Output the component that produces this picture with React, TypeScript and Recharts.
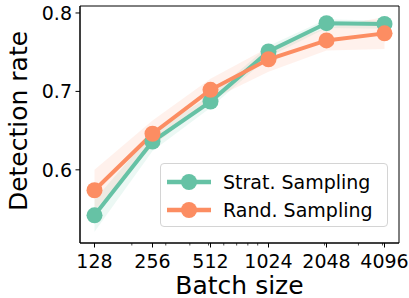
import { ComposedChart, Line, Area, XAxis, YAxis, Legend, ReferenceArea } from 'recharts';

// batch sizes on the x axis (log scale)
const batchSizes = [128, 256, 512, 1024, 2048, 4096];
const minorTicks = [200, 300, 400, 500, 600, 700, 800, 900, 2000, 3000, 4000];
const yTicks = [0.6, 0.7, 0.8];

// Strat. Sampling
const stratMean = [0.542, 0.636, 0.687, 0.751, 0.787, 0.786];
const stratLow = [0.521, 0.624, 0.679, 0.744, 0.781, 0.780];
const stratHigh = [0.562, 0.647, 0.695, 0.758, 0.792, 0.790];

// Rand. Sampling
const randMean = [0.574, 0.646, 0.702, 0.741, 0.765, 0.774];
const randLow = [0.548, 0.630, 0.689, 0.725, 0.752, 0.754];
const randHigh = [0.600, 0.663, 0.716, 0.756, 0.781, 0.795];

const GREEN = '#66c2a5';
const ORANGE = '#fc8d62';
const FONT = '"DejaVu Sans", sans-serif';

const PLOT_LEFT = 80;
const PLOT_BOTTOM = 243;
const X_DOMAIN = [Math.pow(2, 6.75), Math.pow(2, 12.25)];
const Y_DOMAIN = [0.5067, 0.8089];

const data = batchSizes.map((b, i) => ({
  batch: b,
  strat: stratMean[i],
  stratBand: [stratLow[i], stratHigh[i]],
  rand: randMean[i],
  randBand: [randLow[i], randHigh[i]],
}));

const XTick = ({ x, payload }: any) => {
  const v = payload.value;
  const major = batchSizes.includes(v);
  if (!major) {
    return <line x1={x} x2={x} y1={PLOT_BOTTOM} y2={PLOT_BOTTOM + 2.5} stroke="#000" strokeWidth={0.7} />;
  }
  return (
    <g>
      <line x1={x} x2={x} y1={PLOT_BOTTOM} y2={PLOT_BOTTOM + 4.5} stroke="#000" strokeWidth={1} />
      <text x={x} y={268} textAnchor="middle" fontSize={19} fontFamily={FONT} fill="#000">
        {v}
      </text>
    </g>
  );
};

const YTick = ({ y, payload }: any) => (
  <g>
    <line x1={PLOT_LEFT - 4.5} x2={PLOT_LEFT} y1={y} y2={y} stroke="#000" strokeWidth={1} />
    <text x={72} y={y + 7} textAnchor="end" fontSize={19} fontFamily={FONT} fill="#000">
      {payload.value.toFixed(1)}
    </text>
  </g>
);

const legendItems = [
  { name: 'Strat. Sampling', color: GREEN },
  { name: 'Rand. Sampling', color: ORANGE },
];

const renderLegend = () => (
  <div
    style={{
      position: 'relative',
      width: 228,
      height: 64,
      boxSizing: 'border-box',
      border: '1px solid #d4d4d4',
      borderRadius: 4,
      background: 'rgba(255,255,255,0.8)',
      fontFamily: FONT,
      fontSize: 19,
    }}
  >
    {legendItems.map((item, i) => (
      <div key={item.name} style={{ position: 'absolute', left: 0, top: 4 + i * 28.3, height: 28, width: '100%' }}>
        <svg width={50} height={28} style={{ position: 'absolute', left: 2, top: 0 }}>
          <line x1={4} x2={48} y1={14} y2={14} stroke={item.color} strokeWidth={4.5} />
          <circle cx={26} cy={14} r={8} fill={item.color} />
        </svg>
        <span style={{ position: 'absolute', left: 62, top: 1, lineHeight: '26px', color: '#000', whiteSpace: 'nowrap' }}>
          {item.name}
        </span>
      </div>
    ))}
  </div>
);

export default function App() {
  return (
    <div style={{ position: 'absolute', left: 0, top: 0, width: 409, height: 298, background: '#fff' }}>
      <ComposedChart width={409} height={298} data={data} margin={{ top: 6, right: 10, left: 0, bottom: 0 }}>
        <XAxis
          dataKey="batch"
          type="number"
          scale="log"
          domain={X_DOMAIN}
          allowDataOverflow
          ticks={[...batchSizes, ...minorTicks]}
          interval={0}
          tick={<XTick />}
          tickLine={false}
          axisLine={{ stroke: '#000', strokeWidth: 1 }}
          height={55}
          label={{
            content: () => (
              <text x={239.5} y={294} textAnchor="middle" fontSize={25} fontFamily={FONT} fill="#000">
                Batch size
              </text>
            ),
          }}
        />
        <YAxis
          type="number"
          domain={Y_DOMAIN}
          allowDataOverflow
          ticks={yTicks}
          interval={0}
          tick={<YTick />}
          tickLine={false}
          axisLine={{ stroke: '#000', strokeWidth: 1 }}
          width={80}
          label={{
            content: () => (
              <text
                x={27}
                y={121}
                transform="rotate(-90 27 121)"
                textAnchor="middle"
                fontSize={25}
                fontFamily={FONT}
                fill="#000"
              >
                Detection rate
              </text>
            ),
          }}
        />
        <Area
          type="linear"
          dataKey="stratBand"
          stroke="none"
          fill={GREEN}
          fillOpacity={0.12}
          isAnimationActive={false}
          activeDot={false}
          legendType="none"
        />
        <Area
          type="linear"
          dataKey="randBand"
          stroke="none"
          fill={ORANGE}
          fillOpacity={0.12}
          isAnimationActive={false}
          activeDot={false}
          legendType="none"
        />
        <Line
          type="linear"
          dataKey="strat"
          stroke={GREEN}
          strokeWidth={4}
          dot={{ r: 8, fill: GREEN, stroke: GREEN, strokeWidth: 0 }}
          activeDot={false}
          isAnimationActive={false}
        />
        <Line
          type="linear"
          dataKey="rand"
          stroke={ORANGE}
          strokeWidth={4}
          dot={{ r: 8, fill: ORANGE, stroke: ORANGE, strokeWidth: 0 }}
          activeDot={false}
          isAnimationActive={false}
        />
        {/* frame around the plot area */}
        <ReferenceArea
          x1={X_DOMAIN[0]}
          x2={X_DOMAIN[1]}
          y1={Y_DOMAIN[0]}
          y2={Y_DOMAIN[1]}
          fill="none"
          stroke="#000"
          strokeWidth={1}
          fillOpacity={0}
          ifOverflow="visible"
        />
        <Legend
          layout="vertical"
          align="center"
          verticalAlign="middle"
          content={renderLegend}
          wrapperStyle={{ position: 'absolute', left: 160, top: 163, width: 228, height: 64 }}
        />
      </ComposedChart>
    </div>
  );
}
